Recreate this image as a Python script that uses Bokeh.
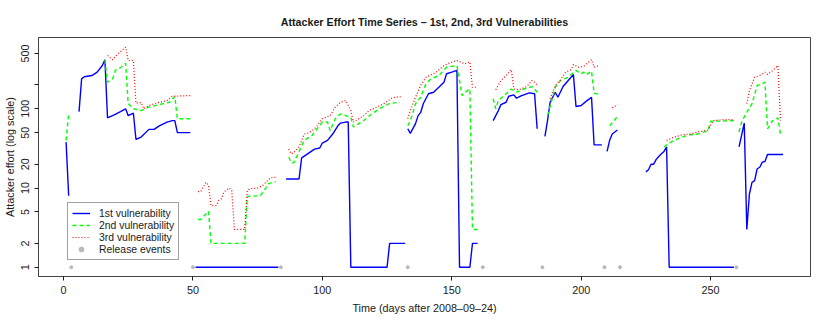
from bokeh.plotting import figure
from bokeh.models import Range1d, FixedTicker, Legend, LegendItem
from bokeh.embed import file_html
from bokeh.resources import INLINE

nan = float("nan")

# ---- data (days after 2008-09-24, attacker effort) ----
days_v1 = [1, 2, nan, 6, 7, 8, 11, 13, 15, 16, 17, 20, 22, 24, 25, 27, 28, 30, 33, 35, 37, 40, 42, 43, 44, 49, nan,
           51, 83, nan,
           86, 91, 92, 95, 97, 99, 100, 102, 104, 106, 107, 109, 110, 111, 125, 126, 132, nan,
           133, 134, 136, 137, 138, 139, 141, 143, 145, 147, 148, 150, 152, 153, 157, 158, 160, nan,
           166, 168, 169, 171, 172, 174, 175, 177, 180, 182, 183, nan,
           186, 187, 188, 190, 191, 193, 195, 197, 198, 200, 202, 204, 205, 208, nan,
           210, 211, 212, 214, nan,
           225, 226, 227, 228, 229, 230, 231, 232, 233, 234, 259, nan,
           261, 263, 264, 265, 266, 267, 268, 269, 270, 271, 272, 278]
effort_v1 = [38, 8, nan, 92, 239, 254, 263, 290, 352, 416, 77, 85, 92, 100, 82, 88, 41, 44, 55, 55, 61, 68, 71, 71, 50, 50, nan,
             1, 1, nan,
             13, 13, 24, 28, 31, 32, 37, 40, 48, 61, 66, 68, 68, 1, 1, 2, 2, nan,
             56, 49, 65, 82, 90, 116, 155, 162, 187, 217, 277, 290, 305, 1, 1, 2, 2, nan,
             71, 95, 113, 121, 144, 150, 136, 147, 159, 155, 56, nan,
             45, 71, 121, 162, 140, 191, 228, 271, 107, 110, 125, 140, 35, 35, nan,
             29, 40, 48, 54, nan,
             16, 17, 20, 20, 23, 25, 27, 29, 33, 1, 1, nan,
             33, 66, 3, 8.4, 11.8, 12.4, 17.5, 18.3, 21.2, 21.6, 26.5, 26.5]

days_v2 = [1, 2, nan, 16, 17, 19, 20, 22, 24, 25, 27, 30, 33, 37, 41, 43, 44, 49, nan,
           52, 53, 56, 57, 70, 71, 76, 78, 79, 82, nan,
           87, 88, 89, 92, 93, 96, 100, 102, 103, 105, 107, 109, 111, 112, 116, 119, 122, 126, 130, nan,
           133, 134, 135, 136, 138, 140, 142, 145, 148, 152, 154, 156, 157, 158, 160, nan,
           166, 167, 168, 171, 173, 175, 178, 181, 182, 183, nan,
           187, 189, 190, 192, 195, 198, 200, 201, 202, 204, 205, 207, nan,
           211, 214, nan,
           232, 234, 236, 239, 242, 245, 249, 250, 254, 259, nan,
           261, 262, 264, 266, 268, 270, 271, 272, 274, 276, 277]
effort_v2 = [40, 86, nan, 416, 217, 239, 305, 330, 377, 116, 100, 95, 105, 113, 121, 143, 75, 75, nan,
             4, 4, 5.1, 2, 2, 7.8, 8, 9.8, 11.3, 12.1, nan,
             24.5, 20.8, 20.8, 34, 40, 46, 68, 68, 53, 75, 86, 82, 78, 59, 71, 86, 100, 117, 121, nan,
             61, 71, 90, 116, 140, 207, 239, 263, 335, 352, 147, 170, 178, 3, 3, nan,
             134, 100, 127, 155, 178, 162, 178, 191, 178, 162, nan,
             82, 140, 187, 228, 250, 305, 277, 290, 270, 299, 157, 152, nan,
             61, 80, nan,
             33, 37, 40, 44, 47, 48, 53, 70, 70, 71, nan,
             51, 68, 91, 116, 197, 207, 217, 56, 71, 77, 48]

days_v3 = [17, 19, 21, 24, 25, 27, 28, 30, 31, 33, 37, 40, 42, 49, nan,
           52, 53, 55, 56, 57, 59, 60, 61, 62, 64, 65, 66, 70, 71, 72, 75, 77, 80, 82, nan,
           87, 88, 89, 91, 93, 95, 97, 98, 100, 103, 105, 107, 109, 111, 112, 113, 116, 118, 121, 124, 127, 131, nan,
           133, 134, 136, 138, 140, 144, 147, 149, 152, 155, 157, 158, 160, nan,
           167, 169, 171, 173, 174, 176, 179, 181, 182, 183, nan,
           188, 190, 192, 194, 196, 197, 199, 201, 202, 204, 205, 207, nan,
           212, 214, nan,
           233, 236, 239, 242, 245, 249, 251, 255, 259, nan,
           264, 265, 267, 269, 271, 272, 274, 276, 277]
effort_v3 = [471, 416, 494, 600, 407, 407, 118, 120, 100, 110, 121, 127, 144, 147, nan,
             9, 9, 11.8, 10.8, 6, 6, 7, 7.3, 8.9, 10, 9.3, 3, 3, 9.3, 9.8, 10, 10.8, 13.5, 13.7, nan,
             31, 27, 28, 33, 48, 50, 56, 61, 75, 82, 105, 121, 127, 95, 68, 71, 82, 95, 105, 117, 138, 143, nan,
             75, 95, 140, 197, 250, 290, 352, 377, 407, 370, 390, 187, 187, nan,
             174, 228, 263, 311, 178, 174, 191, 228, 217, 200, nan,
             134, 197, 232, 290, 311, 362, 335, 342, 370, 416, 335, 352, nan,
             103, 113, nan,
             40, 44, 47, 48, 51, 54, 71, 73, 73, nan,
             116, 170, 250, 263, 290, 271, 305, 352, 71]

release_days = [3, 50, 84, 133, 162, 185, 209, 215, 260]
release_level = [1, 1, 1, 1, 1, 1, 1, 1, 1]

x_ticks = [0, 50, 100, 150, 200, 250]
y_ticks = [1, 2, 5, 10, 20, 50, 100, 200, 500]
y_tick_labels = ["1", "2", "5", "10", "20", "50", "100", "", "500"]

title_text = "Attacker Effort Time Series \u2013 1st, 2nd, 3rd Vulnerabilities"
x_title = "Time (days after 2008\u201309\u201324)"
y_title = "Attacker effort (log scale)"
series_names = ["1st vulnerability", "2nd vulnerability", "3rd vulnerability", "Release events"]

FONT = "Liberation Sans"
TXT = "#1a1a1a"
BOX = "#444444"

p = figure(width=822, height=320,
           x_range=Range1d(-9.66, 288.6), y_range=Range1d(0.764, 794.6),
           y_axis_type="log", output_backend="svg", toolbar_location=None,
           min_border_left=38, min_border_right=12, min_border_top=37, min_border_bottom=44,
           title=title_text)

p.background_fill_color = "white"
p.border_fill_color = "white"
p.outline_line_color = BOX
p.outline_line_width = 1
p.xgrid.visible = False
p.ygrid.visible = False

p.title.text_font = FONT
p.title.text_font_size = "10.7px"
p.title.text_font_style = "bold"
p.title.text_color = TXT
p.title.align = "center"
p.title.standoff = 19

for ax in (p.xaxis[0], p.yaxis[0]):
    ax.axis_line_color = BOX
    ax.major_tick_line_color = TXT
    ax.major_tick_in = 0
    ax.major_tick_out = 4
    ax.minor_tick_line_color = None
    ax.major_label_text_font = FONT
    ax.major_label_text_font_size = "10.8px"
    ax.major_label_text_color = TXT
    ax.axis_label_text_font = FONT
    ax.axis_label_text_font_size = "10.8px"
    ax.axis_label_text_font_style = "normal"
    ax.axis_label_text_color = TXT

p.xaxis[0].ticker = FixedTicker(ticks=x_ticks)
p.xaxis[0].major_label_standoff = 5
p.xaxis[0].axis_label = x_title
p.xaxis[0].axis_label_standoff = 5

p.yaxis[0].ticker = FixedTicker(ticks=y_ticks)
p.yaxis[0].major_label_overrides = {t: lab for t, lab in zip(y_ticks, y_tick_labels)}
p.yaxis[0].major_label_orientation = "vertical"
p.yaxis[0].major_label_standoff = 5
p.yaxis[0].axis_label = y_title
p.yaxis[0].axis_label_standoff = 3

r1 = p.line(days_v1, effort_v1, line_color="#0000ff", line_width=1.4)
r2 = p.line(days_v2, effort_v2, line_color="#00ff00", line_width=1.4, line_dash="4 3")
r3 = p.line(days_v3, effort_v3, line_color="#ff0000", line_width=1.2, line_dash="1 2")
r4 = p.scatter(release_days, release_level, size=3, fill_color="#b8b8b8", line_color="#b8b8b8")

legend = Legend(items=[LegendItem(label=series_names[0], renderers=[r1]),
                       LegendItem(label=series_names[1], renderers=[r2]),
                       LegendItem(label=series_names[2], renderers=[r3]),
                       LegendItem(label=series_names[3], renderers=[r4])],
                location=(29, 16))
legend.label_text_font = FONT
legend.label_text_font_size = "10.4px"
legend.label_text_color = TXT
legend.label_height = 12
legend.glyph_height = 12
legend.glyph_width = 18
legend.label_standoff = 9
legend.spacing = 0
legend.padding = 4
legend.margin = 0
legend.border_line_color = BOX
legend.border_line_width = 1
legend.background_fill_alpha = 1
p.add_layout(legend, "center")

open("out.html", "w").write(file_html(p, INLINE))
